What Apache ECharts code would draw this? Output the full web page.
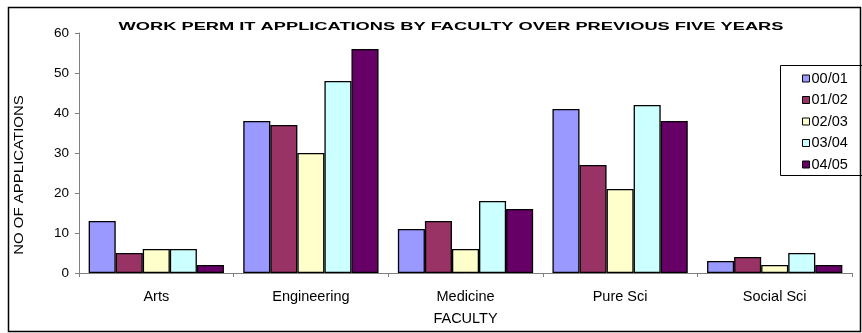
<!DOCTYPE html>
<html>
<head>
<meta charset="utf-8">
<script src="https://cdn.jsdelivr.net/npm/echarts@6/dist/echarts.min.js"></script>
<style>
  html, body { margin: 0; padding: 0; background: #ffffff; }
  #chart { width: 862px; height: 333px; }
</style>
</head>
<body>
<div id="chart"></div>
<script>
// Faculties along the x axis
const faculties = ['Arts', 'Engineering', 'Medicine', 'Pure Sci', 'Social Sci'];

// Applications per academic year, one value per faculty
const year0001 = [13, 38, 11, 41, 3];
const year0102 = [5, 37, 13, 27, 4];
const year0203 = [6, 30, 6, 21, 2];
const year0304 = [6, 48, 18, 42, 5];
const year0405 = [2, 56, 16, 38, 2];

const yearLabels = ['00/01', '01/02', '02/03', '03/04', '04/05'];
const yearColors = ['#9999FF', '#993366', '#FFFFCC', '#CCFFFF', '#660066'];
const yearValues = [year0001, year0102, year0203, year0304, year0405];

// Value axis ticks
const yMin = 0, yMax = 60, yStep = 10;

const chartTitle = 'WORK PERM IT APPLICATIONS BY FACULTY OVER PREVIOUS FIVE YEARS';
const yTitle = 'NO OF APPLICATIONS';
const xTitle = 'FACULTY';

const chart = echarts.init(document.getElementById('chart'), null, { renderer: 'canvas' });

const series = yearLabels.map((name, i) => ({
  name: name,
  type: 'bar',
  data: yearValues[i],
  barGap: '0%',
  barCategoryGap: '12.5%',
  itemStyle: { color: yearColors[i], borderColor: '#000000', borderWidth: 1.3 },
  emphasis: { disabled: true }
}));

chart.setOption({
  animation: false,
  backgroundColor: '#ffffff',
  textStyle: { fontFamily: 'Liberation Sans, Arial, sans-serif' },
  grid: { left: 79, right: 10, top: 33, bottom: 60, containLabel: false },
  legend: {
    orient: 'vertical',
    left: 797,
    top: 66,
    itemGap: 6.5,
    itemWidth: 7,
    itemHeight: 7,
    icon: 'rect',
    selectedMode: false,
    textStyle: { fontFamily: 'Liberation Sans, Arial', fontSize: 14.5, color: '#000000', padding: [0, 0, 0, -3] },
    itemStyle: { borderColor: '#000000', borderWidth: 1 },
    data: yearLabels
  },
  xAxis: {
    type: 'category',
    data: faculties,
    name: xTitle,
    nameLocation: 'middle',
    nameGap: 38,
    nameTextStyle: { fontFamily: 'Liberation Sans, Arial', fontSize: 14.5, color: '#000000' },
    axisLine: { lineStyle: { color: '#808080', width: 1 } },
    axisTick: { show: true, length: 4, lineStyle: { color: '#808080' } },
    axisLabel: { fontFamily: 'Liberation Sans, Arial', fontSize: 14.5, color: '#000000', margin: 16 }
  },
  yAxis: {
    type: 'value',
    min: yMin,
    max: yMax,
    interval: yStep,
    axisLine: { show: true, lineStyle: { color: '#808080', width: 1 } },
    axisTick: { show: true, length: 4, lineStyle: { color: '#808080' } },
    splitLine: { show: false },
    axisLabel: { fontFamily: 'Liberation Sans, Arial', fontSize: 13.5, color: '#000000', margin: 10 }
  },
  graphic: [
    {
      // outer chart frame
      type: 'rect',
      silent: true,
      shape: { x: 8.5, y: 7.5, width: 852, height: 324 },
      style: { fill: 'none', stroke: '#000000', lineWidth: 1.5 },
      z: 100
    },
    {
      // legend frame
      type: 'rect',
      silent: true,
      shape: { x: 780.5, y: 65.5, width: 90, height: 110 },
      style: { fill: '#ffffff', stroke: '#000000', lineWidth: 1 },
      z: 1
    },
    {
      // chart heading, widely spaced
      type: 'text',
      silent: true,
      x: 451,
      y: 27,
      scaleX: 1.66,
      style: {
        text: chartTitle,
        fontFamily: 'Liberation Sans, Arial',
        fontSize: 11,
        fontWeight: 'bold',
        fill: '#000000',
        align: 'center',
        verticalAlign: 'middle'
      }
    },
    {
      // value axis heading
      type: 'text',
      silent: true,
      x: 20,
      y: 175,
      rotation: Math.PI / 2,
      scaleX: 1.25,
      style: {
        text: yTitle,
        fontFamily: 'Liberation Sans, Arial',
        fontSize: 12,
        fill: '#000000',
        align: 'center',
        verticalAlign: 'middle'
      }
    }
  ],
  series: series
});
</script>
</body>
</html>
